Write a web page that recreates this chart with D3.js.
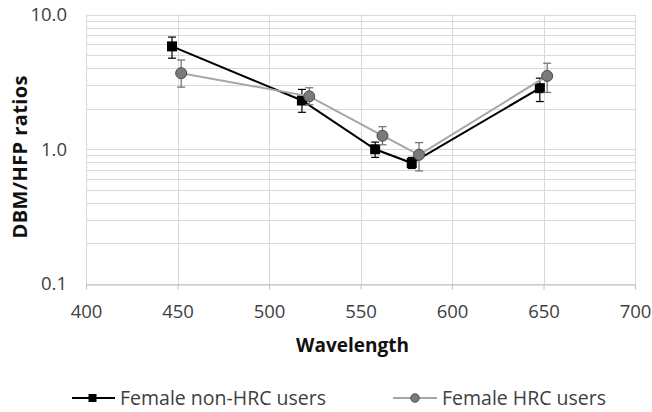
<!DOCTYPE html>
<html>
<head>
<meta charset="utf-8">
<script src="https://cdn.jsdelivr.net/npm/d3@7"></script>
<style>
  html, body { margin: 0; padding: 0; background: #fff; }
  svg { display: block; font-family: "Open Sans", sans-serif; }
</style>
</head>
<body>
<svg id="chart" width="652" height="412"></svg>
<script>
// Wavelength positions (nm) and DBM/HFP ratios with error-bar limits
const nonHrcX  = [447, 518, 558, 578, 648];
const nonHrcY  = [5.8, 2.3, 1.0, 0.79, 2.84];
const nonHrcHi = [6.8, 2.78, 1.13, 0.87, 3.37];
const nonHrcLo = [4.74, 1.88, 0.87, 0.72, 2.26];

const hrcX  = [452, 522, 562, 582, 652];
const hrcY  = [3.67, 2.47, 1.26, 0.91, 3.5];
const hrcHi = [4.6, 2.86, 1.47, 1.12, 4.35];
const hrcLo = [2.89, 2.14, 1.08, 0.69, 2.64];

const xTicks = [400, 450, 500, 550, 600, 650, 700];
const yTicks = [0.1, 1, 10];
const yTickLabels = ["0.1", "1.0", "10.0"];
const seriesNames = ["Female non-HRC users", "Female HRC users"];

const svg = d3.select("#chart");
const x = d3.scaleLinear().domain([400, 700]).range([86, 635]);
const y = d3.scaleLog().domain([0.1, 10]).range([284, 14.5]);

// Minor log gridlines (1..9 per decade)
const gridVals = [];
[0.1, 1].forEach(d => { for (let k = 1; k <= 9; k++) gridVals.push(d * k); });
gridVals.push(10);

const grid = svg.append("g");
grid.selectAll("line.h").data(gridVals).join("line")
  .attr("x1", x(400)).attr("x2", x(700))
  .attr("y1", d => Math.round(y(d)) + 0.5).attr("y2", d => Math.round(y(d)) + 0.5)
  .attr("stroke", "#d9d9d9").attr("stroke-width", 1);
grid.selectAll("line.v").data(xTicks).join("line")
  .attr("x1", d => Math.round(x(d)) + 0.5).attr("x2", d => Math.round(x(d)) + 0.5)
  .attr("y1", y(10)).attr("y2", y(0.1))
  .attr("stroke", "#d9d9d9").attr("stroke-width", 1);

// X axis line with outward ticks
const xAxis = d3.axisBottom(x).tickValues(xTicks).tickSize(5).tickSizeOuter(0).tickPadding(15);
const gx = svg.append("g").attr("transform", `translate(0,${Math.round(y(0.1)) + 0.5})`).call(xAxis);
gx.select(".domain").attr("stroke", "#bfbfbf");
gx.selectAll(".tick line").attr("stroke", "#bfbfbf");
gx.selectAll(".tick text").attr("font-size", 18.5).attr("fill", "#404040")
  .attr("font-family", "Open Sans, sans-serif");

// Y axis labels only
const yAxis = d3.axisLeft(y).tickValues(yTicks).tickSize(0).tickPadding(19)
  .tickFormat((d, i) => yTickLabels[i]);
const gy = svg.append("g").attr("transform", `translate(${x(400)},0)`).call(yAxis);
gy.select(".domain").remove();
gy.selectAll(".tick text").attr("font-size", 18.5).attr("fill", "#404040")
  .attr("font-family", "Open Sans, sans-serif");

// Axis titles
svg.append("text").attr("x", 352.5).attr("y", 352).attr("text-anchor", "middle")
  .attr("font-size", 19).attr("font-weight", "bold").attr("fill", "#111")
  .text("Wavelength");
svg.append("text").attr("transform", "translate(27,157) rotate(-90)")
  .attr("text-anchor", "middle")
  .attr("font-size", 20).attr("font-weight", "bold").attr("fill", "#111")
  .attr("textLength", 163).attr("lengthAdjust", "spacing")
  .text("DBM/HFP ratios");

function drawSeries(xs, ys, his, los, opts) {
  const g = svg.append("g");
  const pts = xs.map((v, i) => ({ x: v, y: ys[i], hi: his[i], lo: los[i] }));
  g.append("path").datum(pts)
    .attr("fill", "none").attr("stroke", opts.line).attr("stroke-width", 2)
    .attr("d", d3.line().x(d => x(d.x)).y(d => y(d.y)));
  const eb = g.selectAll("g.eb").data(pts).join("g").attr("stroke", opts.err).attr("stroke-width", 1.2);
  eb.append("line").attr("x1", d => x(d.x)).attr("x2", d => x(d.x))
    .attr("y1", d => y(d.hi)).attr("y2", d => y(d.lo));
  eb.append("line").attr("x1", d => x(d.x) - 4).attr("x2", d => x(d.x) + 4)
    .attr("y1", d => y(d.hi)).attr("y2", d => y(d.hi));
  eb.append("line").attr("x1", d => x(d.x) - 4).attr("x2", d => x(d.x) + 4)
    .attr("y1", d => y(d.lo)).attr("y2", d => y(d.lo));
  if (opts.shape === "square") {
    g.selectAll("rect").data(pts).join("rect")
      .attr("x", d => x(d.x) - 5).attr("y", d => y(d.y) - 5)
      .attr("width", 10).attr("height", 10).attr("fill", "#000");
  } else {
    g.selectAll("circle").data(pts).join("circle")
      .attr("cx", d => x(d.x)).attr("cy", d => y(d.y)).attr("r", 5.5)
      .attr("fill", "#7a7a7a").attr("stroke", "#4a4a4a").attr("stroke-width", 1);
  }
}

drawSeries(nonHrcX, nonHrcY, nonHrcHi, nonHrcLo, { line: "#000", err: "#000", shape: "square" });
drawSeries(hrcX, hrcY, hrcHi, hrcLo, { line: "#a6a6a6", err: "#6e6e6e", shape: "circle" });

// Legend
const leg = svg.append("g");
const legY = 398;
leg.append("line").attr("x1", 72).attr("x2", 115).attr("y1", legY).attr("y2", legY)
  .attr("stroke", "#000").attr("stroke-width", 2);
leg.append("rect").attr("x", 92.5 - 4).attr("y", legY - 4).attr("width", 8).attr("height", 8).attr("fill", "#000");
leg.append("text").attr("x", 120).attr("y", legY + 6.5).attr("font-size", 19.5).attr("fill", "#404040")
  .text(seriesNames[0]);
leg.append("line").attr("x1", 393).attr("x2", 437).attr("y1", legY).attr("y2", legY)
  .attr("stroke", "#a6a6a6").attr("stroke-width", 2);
leg.append("circle").attr("cx", 415).attr("cy", legY).attr("r", 4.2)
  .attr("fill", "#7a7a7a").attr("stroke", "#4a4a4a").attr("stroke-width", 1);
leg.append("text").attr("x", 442).attr("y", legY + 6.5).attr("font-size", 19.5).attr("fill", "#404040")
  .text(seriesNames[1]);
</script>
</body>
</html>
